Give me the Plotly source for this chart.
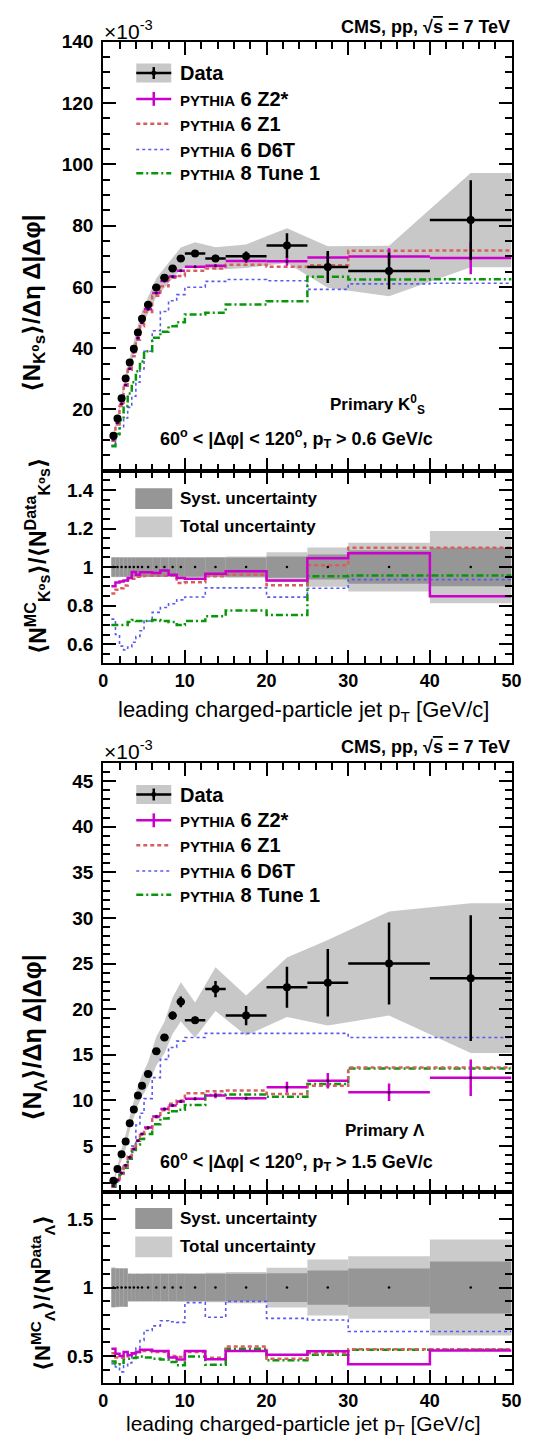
import plotly.graph_objects as go

W, H = 541, 1439
FONT = "Liberation Sans, Arial, DejaVu Sans, sans-serif"

# ---------------- data ----------------
bin_edges = [1.0, 1.5, 2.0, 2.5, 3.0, 3.5, 4.0, 4.5, 5.0, 6.0, 7.0, 8.0, 9.0, 10.0,
             12.5, 15.0, 20.0, 25.0, 30.0, 40.0, 50.0]

# K0S panel (units of 1e-3)
k0_data = [11.4, 17.1, 23.7, 30.1, 35.3, 39.8, 45.1, 49.6, 54.2, 59.8, 63.0, 66.0, 69.3,
           70.9, 69.3, 70.0, 73.5, 66.5, 65.2, 81.8]
k0_stat = [0.2, 0.25, 0.3, 0.35, 0.4, 0.45, 0.5, 0.5, 0.5, 0.6, 0.6, 0.7, 0.8,
           0.9, 1.2, 1.6, 4.0, 5.2, 6.0, 13.0]
k0_syst = [0.57, 0.86, 1.19, 1.5, 1.77, 1.99, 2.26, 2.48, 2.71, 2.99, 3.15, 3.3, 3.47,
           3.55, 3.47, 3.5, 4.04, 4.32, 5.67, 8.18]
k0_z2 = [10.3, 15.7, 21.9, 28.0, 33.3, 38.8, 43.3, 48.3, 52.7, 58.0, 61.9, 63.4, 65.3,
         66.6, 66.9, 68.5, 68.4, 69.6, 69.9, 69.4]
k0_z2_err = [0.1, 0.1, 0.15, 0.15, 0.2, 0.2, 0.2, 0.25, 0.25, 0.3, 0.3, 0.35, 0.4,
             0.4, 0.5, 0.6, 1.5, 1.6, 2.7, 5.3]
k0_z1 = [9.8, 15.1, 21.1, 27.2, 33.0, 37.4, 42.8, 47.2, 51.8, 57.1, 60.2, 63.0, 63.6,
         65.3, 66.0, 67.2, 66.6, 67.1, 71.8, 71.9]
k0_d6t = [8.3, 11.1, 14.0, 17.2, 20.7, 24.3, 28.9, 33.2, 39.0, 45.7, 52.0, 55.5, 57.5,
          59.9, 61.8, 62.4, 62.0, 59.2, 61.0, 61.2]
k0_p8 = [8.0, 12.0, 16.6, 21.1, 25.2, 28.9, 32.5, 35.7, 39.0, 43.4, 45.4, 47.2, 48.5,
         51.0, 51.6, 54.3, 55.3, 63.3, 62.4, 62.5]
k0_r_z2 = [0.90, 0.92, 0.925, 0.93, 0.943, 0.974, 0.96, 0.973, 0.973, 0.97, 0.983, 0.96,
           0.943, 0.94, 0.966, 0.978, 0.931, 1.046, 1.072, 0.849]
k0_r_z1 = [0.863, 0.883, 0.89, 0.904, 0.935, 0.94, 0.95, 0.952, 0.955, 0.955, 0.955, 0.955,
           0.918, 0.921, 0.952, 0.96, 0.906, 1.009, 1.101, 1.101]
k0_r_d6t = [0.73, 0.65, 0.59, 0.57, 0.585, 0.61, 0.64, 0.67, 0.72, 0.765, 0.79, 0.81,
            0.83, 0.845, 0.892, 0.892, 0.844, 0.89, 0.935, 0.935]
k0_r_p8 = [0.70, 0.70, 0.70, 0.70, 0.715, 0.725, 0.72, 0.72, 0.72, 0.725, 0.72, 0.715,
           0.70, 0.72, 0.745, 0.775, 0.752, 0.952, 0.957, 0.957]

# Lambda panel (units of 1e-3)
la_data = [1.2, 2.5, 4.1, 5.5, 7.5, 9.0, 10.55, 11.6, 12.9, 15.4, 16.9, 19.3, 20.8,
           18.8, 22.2, 19.3, 22.4, 22.9, 25.0, 23.4]
la_stat = [0.05, 0.08, 0.1, 0.12, 0.15, 0.17, 0.2, 0.22, 0.25, 0.3, 0.35, 0.45, 0.58,
           0.4, 0.9, 1.05, 2.25, 3.7, 4.5, 6.9]
la_syst = [0.17, 0.35, 0.57, 0.77, 0.75, 0.9, 1.06, 1.16, 1.29, 1.54, 1.69, 1.93, 2.08,
           1.88, 2.22, 1.93, 2.35, 2.86, 3.5, 4.45]
la_z2 = [0.66, 1.29, 2.05, 2.91, 3.79, 4.68, 5.59, 6.33, 7.03, 8.25, 9.06, 9.46, 9.88,
         10.18, 10.54, 10.25, 11.45, 12.17, 10.9, 12.5]
la_z2_err = [0.03, 0.04, 0.05, 0.06, 0.07, 0.08, 0.09, 0.1, 0.1, 0.12, 0.13, 0.14, 0.15,
             0.15, 0.3, 0.15, 0.6, 0.85, 0.95, 2.0]
la_z1 = [0.62, 1.23, 2.0, 2.73, 3.83, 4.65, 5.59, 6.22, 6.91, 8.15, 8.94, 9.65, 10.0,
         10.8, 11.0, 11.1, 10.7, 11.6, 13.6, 13.6]
la_d6t = [0.6, 1.2, 1.9, 2.8, 3.9, 5.0, 7.3, 8.6, 10.2, 12.5, 14.5, 15.8, 16.5,
          16.9, 17.35, 17.35, 17.35, 17.35, 16.9, 16.9]
la_p8 = [0.55, 1.1, 1.85, 2.64, 3.6, 4.37, 5.17, 5.77, 6.32, 7.39, 8.03, 8.82, 8.99,
         9.5, 10.6, 10.65, 10.4, 11.8, 13.5, 13.5]
la_r_z2 = [0.553, 0.517, 0.50, 0.529, 0.505, 0.52, 0.53, 0.546, 0.545, 0.536, 0.536, 0.49,
           0.475, 0.536, 0.476, 0.536, 0.51, 0.535, 0.44, 0.54]
la_r_z1 = [0.52, 0.49, 0.488, 0.497, 0.51, 0.517, 0.53, 0.536, 0.536, 0.529, 0.529, 0.50,
           0.493, 0.529, 0.488, 0.57, 0.48, 0.52, 0.55, 0.55]
la_r_d6t = [0.444, 0.42, 0.384, 0.43, 0.45, 0.497, 0.558, 0.613, 0.686, 0.72, 0.758, 0.75,
            0.746, 0.89, 0.783, 0.899, 0.775, 0.763, 0.679, 0.679]
la_r_p8 = [0.46, 0.44, 0.45, 0.48, 0.48, 0.485, 0.49, 0.497, 0.49, 0.48, 0.475, 0.457,
           0.432, 0.497, 0.437, 0.553, 0.469, 0.51, 0.545, 0.545]

# ---------------- styling ----------------
MAG = "#cc00cc"
RED = "#d66060"
BLUE = "#5a5af0"
GREEN = "#0a960a"
BAND = "#c8c8c8"
DARK = "#969696"
LIGHT = "#cbcbcb"
DASH_Z1 = "4px,3px"
DASH_P8 = "7px,3px,2px,3px"

centers = [0.5 * (a + b) for a, b in zip(bin_edges[:-1], bin_edges[1:])]
halfw = [0.5 * (b - a) for a, b in zip(bin_edges[:-1], bin_edges[1:])]
widths = [b - a for a, b in zip(bin_edges[:-1], bin_edges[1:])]


def py(y):
    return 1 - y / H


def pxx(x):
    return x / W


fig = go.Figure()


def step(vals, color, dash, width, xa, ya):
    fig.add_trace(go.Scatter(x=bin_edges, y=list(vals) + [vals[-1]], mode="lines",
                             line=dict(color=color, dash=dash, width=width, shape="hv"),
                             xaxis=xa, yaxis=ya, hoverinfo="skip"))


def add_main(xa, ya, data, stat, syst, z2, z2err, z1, d6t, p8):
    tot = [(a * a + b * b) ** 0.5 for a, b in zip(stat, syst)]
    up = [d + t for d, t in zip(data, tot)] 
    lo = [d - t for d, t in zip(data, tot)]
    bx = centers + [bin_edges[-1]]
    up_ext = up + [up[-1]]
    lo_ext = lo + [lo[-1]]
    fig.add_trace(go.Scatter(x=bx + bx[::-1], y=up_ext + lo_ext[::-1],
                             fill="toself", fillcolor=BAND, line=dict(width=0), mode="lines",
                             xaxis=xa, yaxis=ya, hoverinfo="skip"))
    step(d6t, BLUE, "dot", 1.6, xa, ya)
    step(p8, GREEN, DASH_P8, 2.5, xa, ya)
    step(z1, RED, DASH_Z1, 2.5, xa, ya)
    fig.add_trace(go.Scatter(x=centers, y=z2, mode="markers",
                             marker=dict(size=3, color="#400040"),
                             error_x=dict(type="data", array=halfw, color=MAG, thickness=2.5, width=0),
                             error_y=dict(type="data", array=z2err, color=MAG, thickness=2.5, width=0),
                             xaxis=xa, yaxis=ya, hoverinfo="skip"))
    fig.add_trace(go.Scatter(x=centers, y=data, mode="markers",
                             marker=dict(size=8, color="black"),
                             error_x=dict(type="data", array=halfw, color="black", thickness=2.5, width=0),
                             error_y=dict(type="data", array=stat, color="black", thickness=2.5, width=0),
                             xaxis=xa, yaxis=ya, hoverinfo="skip"))


def add_ratio(xa, ya, data, stat, syst, rz2, rz1, rd6t, rp8):
    tot_rel = [((a * a + b * b) ** 0.5) / d for a, b, d in zip(stat, syst, data)]
    syst_rel = [b / d for b, d in zip(syst, data)]
    for rel, col in ((tot_rel, LIGHT), (syst_rel, DARK)):
        fig.add_trace(go.Bar(x=centers, y=[2 * r for r in rel], base=[1 - r for r in rel],
                             width=widths, marker=dict(color=col, line=dict(width=0)),
                             xaxis=xa, yaxis=ya, hoverinfo="skip"))
    step(rd6t, BLUE, "dot", 1.6, xa, ya)
    step(rp8, GREEN, DASH_P8, 2.5, xa, ya)
    step(rz1, RED, DASH_Z1, 2.5, xa, ya)
    step(rz2, MAG, "solid", 2.5, xa, ya)
    fig.add_trace(go.Scatter(x=centers, y=[1.0] * len(centers), mode="markers",
                             marker=dict(size=2.5, color="black"),
                             xaxis=xa, yaxis=ya, hoverinfo="skip"))


add_main("x", "y", k0_data, k0_stat, k0_syst, k0_z2, k0_z2_err, k0_z1, k0_d6t, k0_p8)
add_ratio("x2", "y2", k0_data, k0_stat, k0_syst, k0_r_z2, k0_r_z1, k0_r_d6t, k0_r_p8)
add_main("x3", "y3", la_data, la_stat, la_syst, la_z2, la_z2_err, la_z1, la_d6t, la_p8)
add_ratio("x4", "y4", la_data, la_stat, la_syst, la_r_z2, la_r_z1, la_r_d6t, la_r_p8)

X_DOM = [101 / W, 521 / W]
TICKFONT = dict(family=FONT, size=19, color="black", weight="bold")
XTICKFONT = dict(family=FONT, size=18, color="black", weight="bold")


def xcfg(anchor, labels):
    return dict(domain=X_DOM, anchor=anchor, range=[0, 50], showline=True, linecolor="black",
                linewidth=2, mirror="ticks", ticks="inside", ticklen=13, tickwidth=1.5,
                tickcolor="black", tick0=0, dtick=10, showticklabels=labels, tickfont=XTICKFONT,
                minor=dict(ticks="inside", ticklen=7, tickwidth=1.5, tickcolor="black",
                           tick0=0, dtick=2),
                showgrid=False, zeroline=False, ticklabelstandoff=0)


def ycfg(anchor, dom, rng, tickvals, ticktext, minor_dtick):
    return dict(domain=dom, anchor=anchor, range=rng, showline=True, linecolor="black",
                linewidth=2, mirror="ticks", ticks="inside", ticklen=13, tickwidth=1.5,
                tickcolor="black", tickmode="array", tickvals=tickvals, ticktext=ticktext,
                tickfont=TICKFONT,
                minor=dict(ticks="inside", ticklen=7, tickwidth=1.5, tickcolor="black",
                           tick0=0, dtick=minor_dtick),
                showgrid=False, zeroline=False, ticklabelstandoff=4)


k0_ticks = [20, 40, 60, 80, 100, 120, 140]
k0r_ticks = [0.6, 0.8, 1.0, 1.2, 1.4]
la_ticks = [5, 10, 15, 20, 25, 30, 35, 40, 45]
lar_ticks = [0.5, 1.0, 1.5]

fig.update_layout(
    width=W, height=H, margin=dict(l=0, r=0, t=0, b=0),
    paper_bgcolor="white", plot_bgcolor="white", showlegend=False, barmode="overlay",
    xaxis=xcfg("y", False),
    xaxis2=xcfg("y2", True),
    xaxis3=xcfg("y3", False),
    xaxis4=xcfg("y4", True),
    yaxis=ycfg("x", [py(464), py(32)], [0, 140], k0_ticks, [str(v) for v in k0_ticks], 5),
    yaxis2=ycfg("x2", [py(658), py(464)], [0.5, 1.5], k0r_ticks,
                ["0.6", "0.8", "1", "1.2", "1.4"], 0.05),
    yaxis3=ycfg("x3", [py(1190), py(758)], [0, 47], la_ticks, [str(v) for v in la_ticks], 1),
    yaxis4=ycfg("x4", [py(1383), py(1190)], [0.3, 1.7], lar_ticks, ["0.5", "1", "1.5"], 0.1),
)

annotations = []
shapes = []


def ann(text, x, y, size, bold=True, xanchor="center", angle=0):
    annotations.append(dict(text=text, x=pxx(x), y=py(y), xref="paper", yref="paper",
                            showarrow=False, xanchor=xanchor, yanchor="middle", textangle=angle,
                            font=dict(family=FONT, size=size, color="black",
                                      weight="bold" if bold else "normal")))


def hline(x0, x1, y, color, width, dash="solid"):
    shapes.append(dict(type="line", xref="paper", yref="paper", x0=pxx(x0), x1=pxx(x1),
                       y0=py(y), y1=py(y), line=dict(color=color, width=width, dash=dash)))


def vline(x, y0, y1, color, width):
    shapes.append(dict(type="line", xref="paper", yref="paper", x0=pxx(x), x1=pxx(x),
                       y0=py(y0), y1=py(y1), line=dict(color=color, width=width)))


def rect(x0, x1, y0, y1, color):
    shapes.append(dict(type="rect", xref="paper", yref="paper", x0=pxx(x0), x1=pxx(x1),
                       y0=py(y1), y1=py(y0), fillcolor=color, line=dict(width=0), layer="above"))


PY = "<span style='font-size:15px'>PYTHIA</span>"
leg_labels = ["Data", PY + " 6 Z2*", PY + " 6 Z1", PY + " 6 D6T", PY + " 8 Tune 1"]


def main_legend(y0):
    rows = [y0, y0 + 26, y0 + 51, y0 + 77, y0 + 101]
    rect(135, 171, rows[0] - 9.5, rows[0] + 9.5, BAND)
    hline(135, 171, rows[0], "black", 2.5)
    vline(153, rows[0] - 6, rows[0] + 6, "black", 2.5)
    shapes.append(dict(type="circle", xref="paper", yref="paper", x0=pxx(150.5), x1=pxx(155.5),
                       y0=py(rows[0] + 2.5), y1=py(rows[0] - 2.5), fillcolor="black",
                       line=dict(width=0)))
    hline(135, 171, rows[1], MAG, 2.5)
    vline(153, rows[1] - 7, rows[1] + 7, MAG, 2.5)
    hline(135, 171, rows[2], RED, 2.5, DASH_Z1)
    hline(135, 171, rows[3], BLUE, 1.6, "dot")
    hline(135, 171, rows[4], GREEN, 2.5, DASH_P8)
    for lab, yy in zip(leg_labels, rows):
        ann(lab, 178, yy, 20, xanchor="left")


def ratio_legend(y0):
    rect(134, 172, y0 - 10.5, y0 + 10.5, DARK)
    ann("Syst. uncertainty", 178, y0, 17, xanchor="left")
    rect(134, 172, y0 + 18, y0 + 39, LIGHT)
    ann("Total uncertainty", 178, y0 + 28.5, 17, xanchor="left")


CMS = "CMS, pp, √<span style='text-decoration:overline'>s</span> = 7 TeV"
XT = "leading charged-particle jet p<sub>T</sub> [GeV/c]"

# K0S block
ann("×10<sup>-3</sup>", 100, 20, 21, bold=False, xanchor="left")
ann(CMS, 521, 17, 18, xanchor="right")
main_legend(63.5)
ann("Primary K<sup>0</sup><sub>S</sub>", 434, 397, 17, xanchor="right")
ann("60<sup>o</sup> &lt; |Δφ| &lt; 120<sup>o</sup>, p<sub>T</sub> &gt; 0.6 GeV/c", 300, 432, 18)
ann("⟨N<sub>K⁰s</sub>⟩/Δη Δ|Δφ|", 30, 295, 24, angle=-90)
ann("⟨N<sup>MC</sup><sub>K⁰s</sub>⟩/⟨N<sup>Data</sup><sub>K⁰s</sub>⟩", 33, 550, 23, angle=-90)
ratio_legend(492)
ann(XT, 307, 706, 22, bold=False)

# Lambda block
ann("×10<sup>-3</sup>", 100, 745, 21, bold=False, xanchor="left")
ann(CMS, 521, 742, 18, xanchor="right")
main_legend(790)
ann("Primary Λ", 434, 1128, 17, xanchor="right")
ann("60<sup>o</sup> &lt; |Δφ| &lt; 120<sup>o</sup>, p<sub>T</sub> &gt; 1.5 GeV/c", 300, 1160, 18)
ann("⟨N<sub>Λ</sub>⟩/Δη Δ|Δφ|", 30, 1035, 25, angle=-90)
ann("⟨N<sup>MC</sup><sub>Λ</sub>⟩/⟨N<sup>Data</sup><sub>Λ</sub>⟩", 38, 1292, 22, angle=-90)
ratio_legend(1217)
ann(XT, 307, 1425, 21, bold=False)

fig.update_layout(annotations=annotations, shapes=shapes)
fig.write_html(
    "out.html",
    config={"displayModeBar": False},
    post_script=("document.body.style.margin='0px';document.body.style.overflow='hidden';"
                 "var gd=document.getElementById('{plot_id}');gd.style.position='absolute';"
                 "gd.style.top='0px';gd.style.left='0px';"),
)
